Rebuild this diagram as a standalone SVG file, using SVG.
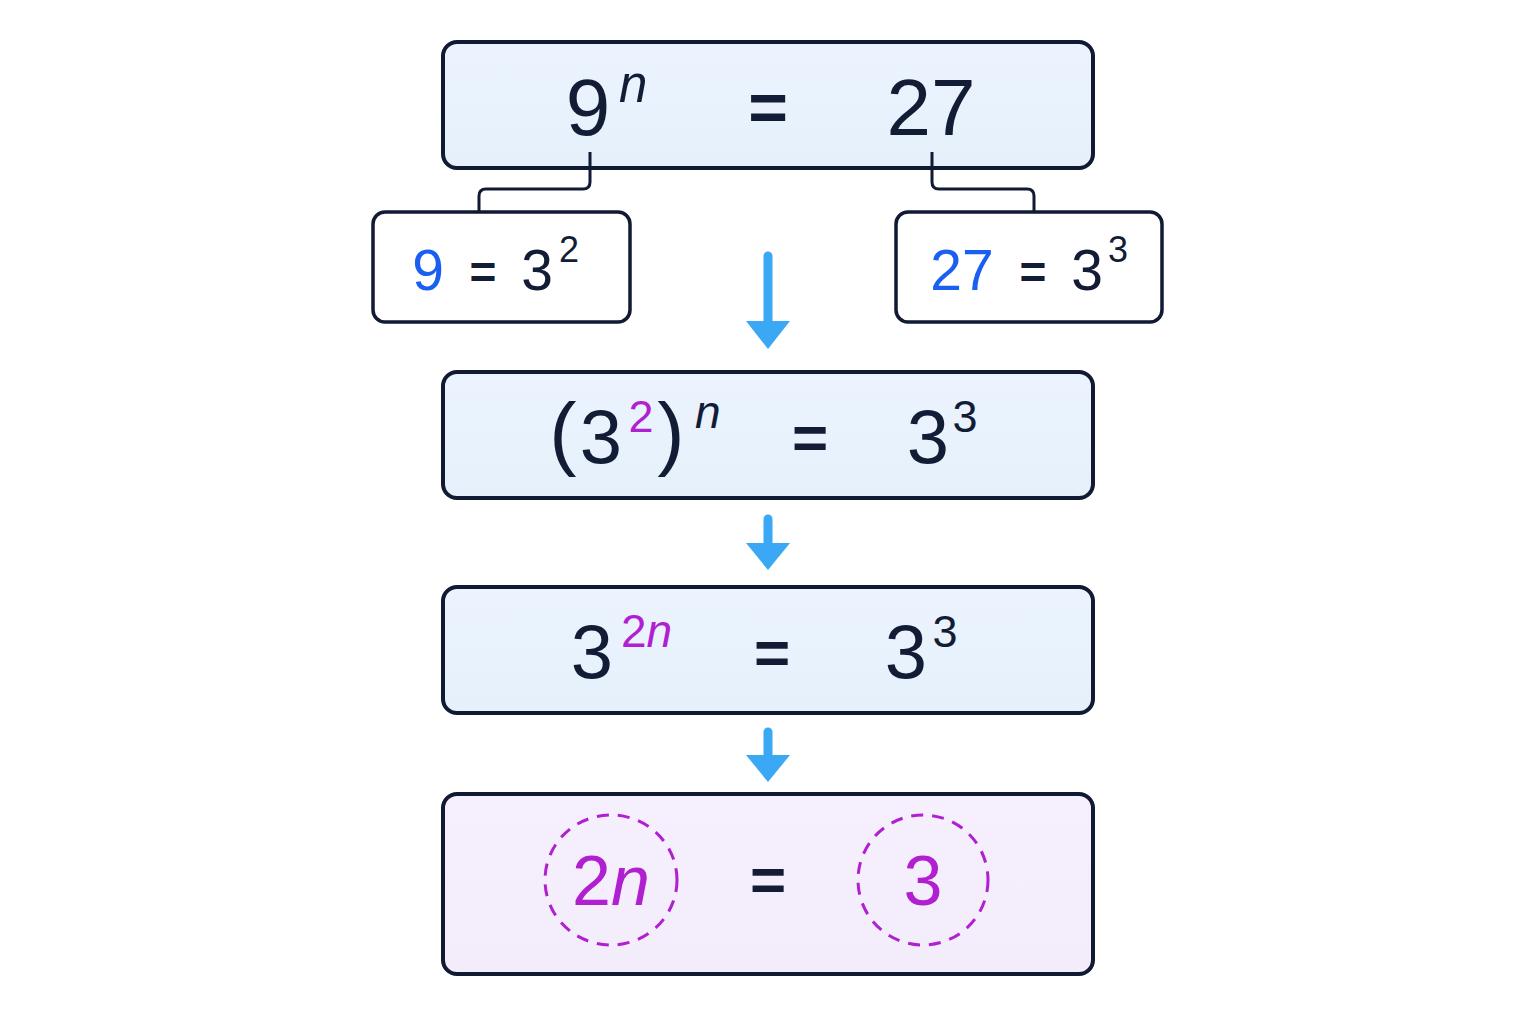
<svg xmlns="http://www.w3.org/2000/svg" width="1536" height="1024" viewBox="0 0 1536 1024">
<defs>
<linearGradient id="blueFill" x1="0" y1="0" x2="0" y2="1"><stop offset="0" stop-color="#ebf4fe"/><stop offset="1" stop-color="#e6f0fb"/></linearGradient>
<linearGradient id="purpleFill" x1="0" y1="0" x2="0" y2="1"><stop offset="0" stop-color="#f6effd"/><stop offset="1" stop-color="#f3ecfb"/></linearGradient>
</defs>
<style>
.box{fill:url(#blueFill);stroke:#111a33;stroke-width:4}
.small{fill:#ffffff;stroke:#111a33;stroke-width:3.5}
.final{fill:url(#purpleFill);stroke:#111a33;stroke-width:4}
.t{font-family:"Liberation Sans",Arial,sans-serif;fill:#121c35}
.eq{font-weight:bold}
.blue{fill:#1b5ff2}
.pur{fill:#b01fd0}
.it{font-style:italic}
.conn{fill:none;stroke:#111a33;stroke-width:3;stroke-linejoin:round}
.arrow{fill:#3aa8f5}
.shaft{stroke:#3aa8f5;stroke-width:9;stroke-linecap:round}
.ring{fill:none;stroke:#b01fd0;stroke-width:3;stroke-dasharray:12 9}
</style>
<rect width="1536" height="1024" fill="#ffffff"/>

<g id="eq1">
<rect class="box" x="443" y="42" width="650" height="126" rx="14"/>
<text class="t" x="588" y="135" font-size="80" text-anchor="middle">9</text>
<text class="t it" x="619" y="102" font-size="51">n</text>
<text class="t eq" x="768" y="131" font-size="68" text-anchor="middle">=</text>
<text class="t" x="931" y="135" font-size="80" text-anchor="middle">27</text>
</g>

<g id="left-factor">
<rect class="small" x="373" y="212" width="257" height="110" rx="12"/>
<text class="t blue" x="428" y="290" font-size="57" text-anchor="middle">9</text>
<text class="t eq" x="483" y="288" font-size="46" text-anchor="middle">=</text>
<text class="t" x="537" y="290" font-size="57" text-anchor="middle">3</text>
<text class="t" x="569" y="262" font-size="36" text-anchor="middle">2</text>
</g>

<g id="right-factor">
<rect class="small" x="896" y="212" width="266" height="110" rx="12"/>
<text class="t blue" x="962" y="290" font-size="57" text-anchor="middle">27</text>
<text class="t eq" x="1033" y="288" font-size="46" text-anchor="middle">=</text>
<text class="t" x="1087" y="290" font-size="57" text-anchor="middle">3</text>
<text class="t" x="1118" y="262" font-size="36" text-anchor="middle">3</text>
</g>

<g id="eq2">
<rect class="box" x="443" y="372" width="650" height="126" rx="14"/>
<text class="t" x="563" y="460" font-size="82" text-anchor="middle">(</text>
<text class="t" x="601" y="463" font-size="76" text-anchor="middle">3</text>
<text class="t pur" x="641" y="432" font-size="45" text-anchor="middle">2</text>
<text class="t" x="671" y="460" font-size="82" text-anchor="middle">)</text>
<text class="t it" x="695" y="428" font-size="46">n</text>
<text class="t eq" x="810" y="459" font-size="62" text-anchor="middle">=</text>
<text class="t" x="928" y="463" font-size="76" text-anchor="middle">3</text>
<text class="t" x="965" y="432" font-size="45" text-anchor="middle">3</text>
</g>

<g id="eq3">
<rect class="box" x="443" y="587" width="650" height="126" rx="14"/>
<text class="t" x="592" y="678" font-size="76" text-anchor="middle">3</text>
<text class="t pur" x="621" y="647" font-size="46">2<tspan class="it">n</tspan></text>
<text class="t eq" x="772" y="674" font-size="62" text-anchor="middle">=</text>
<text class="t" x="906" y="678" font-size="76" text-anchor="middle">3</text>
<text class="t" x="945" y="647" font-size="45" text-anchor="middle">3</text>
</g>

<g id="eq4">
<rect class="final" x="443" y="794" width="650" height="180" rx="14"/>
<ellipse class="ring" cx="611" cy="880" rx="66" ry="65"/>
<ellipse class="ring" cx="923" cy="880" rx="65" ry="65"/>
<text class="t pur" x="611" y="905" font-size="70" text-anchor="middle">2<tspan class="it">n</tspan></text>
<text class="t eq" x="768" y="901" font-size="62" text-anchor="middle">=</text>
<text class="t pur" x="923" y="905" font-size="70" text-anchor="middle">3</text>
</g>

<g id="connectors">
<path class="conn" d="M590 152 V182 Q590 189 583 189 H486 Q479 189 479 196 V212"/>
<path class="conn" d="M932 152 V182 Q932 189 939 189 H1027 Q1034 189 1034 196 V212"/>
<line class="shaft" x1="768" y1="256" x2="768" y2="326"/>
<polygon class="arrow" points="746,321 790,321 768,349"/>
<line class="shaft" x1="768" y1="519" x2="768" y2="546"/>
<polygon class="arrow" points="746,543 790,543 768,570"/>
<line class="shaft" x1="768" y1="732" x2="768" y2="758"/>
<polygon class="arrow" points="746,755 790,755 768,782"/>
</g>
</svg>
